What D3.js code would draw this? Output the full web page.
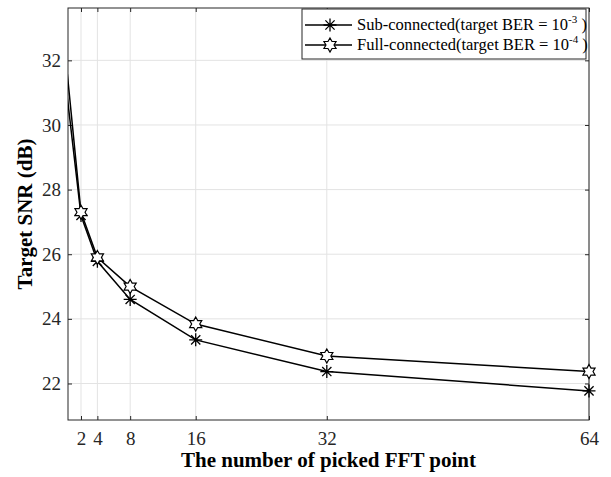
<!DOCTYPE html>
<html>
<head>
<meta charset="utf-8">
<script src="https://cdn.jsdelivr.net/npm/d3@7.9.0/dist/d3.min.js"></script>
<style>
  body { margin: 0; background: #fff; }
  svg { display: block; font-family: "Liberation Serif", "Times New Roman", serif; }
</style>
</head>
<body>
<svg id="chart" width="611" height="477"></svg>
<script>
// picked FFT points (x=0 point lies left of the visible axis, line gets clipped)
const fftPoints = [0, 2, 4, 8, 16, 32, 64];
const subSNR  = [31.58, 27.2, 25.78, 24.6, 23.35, 22.37, 21.77];
const fullSNR = [32.42, 27.3, 25.9, 25.0, 23.84, 22.85, 22.37];
const xTicks = [2, 4, 8, 16, 32, 64];
const yTicks = [22, 24, 26, 28, 30, 32];
const seriesNames = ["Sub-connected(target BER = 10", "Full-connected(target BER = 10"];
const seriesExp = ["-3", "-4"];

/* ---------- layout ---------- */
const svg = d3.select('#chart');
const L = 68, R = 589, T = 8, B = 420;
const axisCol = '#262626';
const gridCol = '#e3e3e3';

const x = d3.scaleLinear().domain([0.413, 64]).range([L, R]);
const y = d3.scaleLinear().domain([20.87, 33.62]).range([B, T]);

svg.append('defs').append('clipPath').attr('id', 'plotclip')
  .append('rect').attr('x', L).attr('y', T).attr('width', R - L).attr('height', B - T);

/* ---------- grid ---------- */
const grid = svg.append('g');
grid.selectAll('.gx').data(xTicks).enter().append('line')
  .attr('x1', d => x(d)).attr('x2', d => x(d)).attr('y1', T).attr('y2', B)
  .attr('stroke', gridCol).attr('stroke-width', 1);
grid.selectAll('.gy').data(yTicks).enter().append('line')
  .attr('y1', d => y(d)).attr('y2', d => y(d)).attr('x1', L).attr('x2', R)
  .attr('stroke', gridCol).attr('stroke-width', 1);

/* ---------- axes (ticks inward, box on) ---------- */
const tickLen = 4;
const xAxB = d3.axisBottom(x).tickValues(xTicks).tickSize(-tickLen).tickPadding(12);
const xAxT = d3.axisTop(x).tickValues(xTicks).tickSize(-tickLen).tickFormat('');
const yAxL = d3.axisLeft(y).tickValues(yTicks).tickSize(-tickLen).tickPadding(7);
const yAxR = d3.axisRight(y).tickValues(yTicks).tickSize(-tickLen).tickFormat('');

function styleAxis(g) {
  g.select('.domain').remove();
  g.selectAll('line').attr('stroke', axisCol);
  g.selectAll('text').attr('fill', axisCol).style('font-size', '19px')
    .style('font-family', '"Liberation Serif", "Times New Roman", serif');
}
svg.append('g').attr('transform', `translate(0,${B})`).call(xAxB).call(styleAxis);
svg.append('g').attr('transform', `translate(0,${T})`).call(xAxT).call(styleAxis);
svg.append('g').attr('transform', `translate(${L},0)`).call(yAxL).call(styleAxis);
svg.append('g').attr('transform', `translate(${R},0)`).call(yAxR).call(styleAxis);

svg.append('rect').attr('x', L).attr('y', T).attr('width', R - L).attr('height', B - T)
  .attr('fill', 'none').attr('stroke', axisCol).attr('stroke-width', 1);

/* ---------- markers ---------- */
function asterisk(g, r) {
  const a = r * Math.SQRT1_2;
  g.append('path')
    .attr('d', `M${-r},0L${r},0M0,${-r}L0,${r}M${-a},${-a}L${a},${a}M${-a},${a}L${a},${-a}`)
    .attr('stroke', '#000').attr('stroke-width', 1.3).attr('fill', 'none');
}
function hexagram(g, r) {
  const pts = [];
  for (let i = 0; i < 12; i++) {
    const ang = -Math.PI / 2 + i * Math.PI / 6;
    const rr = i % 2 === 0 ? r : r * 0.577;
    pts.push([rr * Math.cos(ang), rr * Math.sin(ang)]);
  }
  g.append('path').attr('d', 'M' + pts.map(p => p.join(',')).join('L') + 'Z')
    .attr('stroke', '#000').attr('stroke-width', 1.2).attr('fill', '#fff');
}

/* ---------- lines ---------- */
const series = [
  { vals: subSNR, marker: asterisk, size: 6.5 },
  { vals: fullSNR, marker: hexagram, size: 7 }
];
const lineGen = d3.line().x(d => x(d[0])).y(d => y(d[1]));
const plot = svg.append('g').attr('clip-path', 'url(#plotclip)');

series.forEach(s => {
  const pts = fftPoints.map((f, i) => [f, s.vals[i]]);
  plot.append('path').datum(pts).attr('d', lineGen)
    .attr('fill', 'none').attr('stroke', '#000').attr('stroke-width', 1.5);
});
series.forEach(s => {
  fftPoints.forEach((f, i) => {
    if (f < x.domain()[0]) return;
    const g = svg.append('g').attr('transform', `translate(${x(f)},${y(s.vals[i])})`);
    s.marker(g, s.size);
  });
});

/* ---------- axis labels ---------- */
svg.append('text').attr('x', (L + R) / 2).attr('y', 467).attr('text-anchor', 'middle')
  .style('font-size', '21px').style('font-weight', 'bold').attr('fill', '#000')
  .text('The number of picked FFT point');
svg.append('text').attr('transform', `translate(32,${(T + B) / 2}) rotate(-90)`)
  .attr('text-anchor', 'middle')
  .style('font-size', '21px').style('font-weight', 'bold').attr('fill', '#000')
  .text('Target SNR (dB)');

/* ---------- legend ---------- */
const lg = svg.append('g');
lg.append('rect').attr('x', 302).attr('y', 9).attr('width', 284).attr('height', 50)
  .attr('fill', '#fff').attr('stroke', axisCol).attr('stroke-width', 1);
series.forEach((s, i) => {
  const cy = 25 + i * 20;
  lg.append('line').attr('x1', 305).attr('x2', 352).attr('y1', cy).attr('y2', cy)
    .attr('stroke', '#000').attr('stroke-width', 1.5);
  s.marker(lg.append('g').attr('transform', `translate(330,${cy})`), s.size);
  const t = lg.append('text').attr('x', 357).attr('y', cy + 5)
    .style('font-size', '16.5px').style('white-space', 'pre').attr('fill', '#000');
  t.append('tspan').text(seriesNames[i]);
  t.append('tspan').attr('dy', -7).style('font-size', '11px').text(seriesExp[i]);
  t.append('tspan').attr('dy', 7).text('\u00a0)');
});
</script>
</body>
</html>
